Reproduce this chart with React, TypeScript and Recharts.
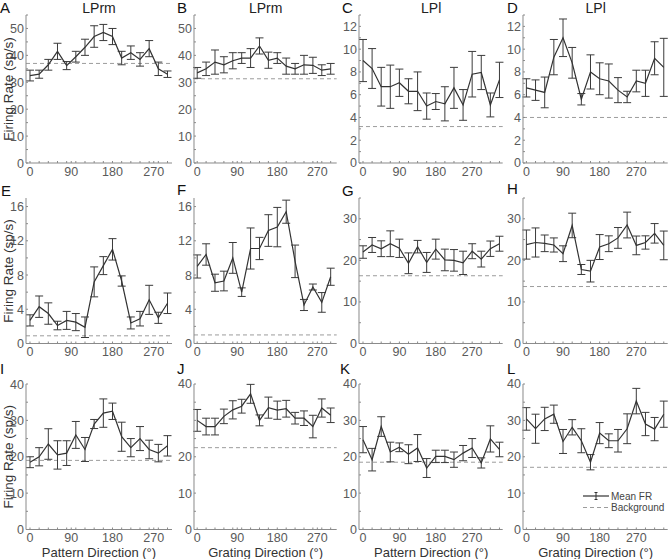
import React from 'react';
import { LineChart, Line, XAxis, YAxis, ErrorBar, ReferenceLine } from 'recharts';

// ---------- data ----------
const dirsLPrm = [0, 20, 40, 60, 80, 100, 120, 140, 160, 180, 200, 220, 240, 260, 280, 300];
const dirsLPl = [0, 22.5, 45, 67.5, 90, 112.5, 135, 157.5, 180, 202.5, 225, 247.5, 270, 292.5, 315, 337.5];

const meanA = [32.5, 33, 36.5, 41.5, 36.2, 39.5, 43, 47, 48.5, 47, 39, 41, 38.5, 42.5, 35, 33];
const errA = [2, 1.5, 2, 3, 1.5, 2, 3, 4, 3, 3, 2.5, 2.5, 2.5, 3, 2.5, 1.2];
const bgA = 37;

const meanB = [33.5, 35, 37.5, 36.5, 38, 39, 39, 43.5, 38.2, 39, 36, 35, 36.5, 36.3, 34.5, 35];
const errB = [2, 2.5, 4.5, 3, 3, 2, 3.5, 3, 3, 2, 3, 2, 3.5, 3, 2, 2];
const bgB = 31.3;

const meanC = [9.0, 8.3, 6.7, 6.7, 7.05, 6.3, 6.3, 5.0, 5.4, 5.2, 6.6, 5.1, 7.8, 7.95, 5.1, 7.3];
const errC = [1.85, 1.75, 1.7, 1.9, 1.2, 1.1, 1.7, 1.15, 0.7, 1.5, 1.8, 1.35, 2.0, 1.5, 1.05, 1.55];
const bgC = 3.2;

const meanD = [6.6, 6.4, 6.2, 9.3, 11.0, 8.8, 5.6, 8.0, 7.4, 7.2, 6.4, 5.8, 7.2, 7.0, 9.2, 8.4];
const errD = [0.8, 0.9, 1.35, 1.55, 1.65, 1.35, 0.5, 1.5, 1.4, 1.5, 1.1, 0.5, 0.95, 1.15, 1.45, 2.55];
const bgD = 4.0;

const meanE = [2.7, 4.3, 3.5, 2.1, 2.7, 2.5, 1.9, 7.2, 9.1, 11.0, 7.3, 2.4, 2.9, 5.1, 3.0, 4.7];
const errE = [0.65, 1.25, 1.25, 0.5, 1.05, 1.0, 1.2, 1.75, 1.05, 1.25, 0.6, 0.7, 0.85, 1.7, 0.65, 1.2];
const bgE = 0.9;

const meanF = [9.0, 10.4, 7.1, 7.3, 10.0, 6.0, 11.1, 11.1, 13.2, 13.6, 15.4, 9.6, 4.5, 6.6, 4.8, 7.8];
const errF = [1.35, 1.25, 1.0, 1.15, 1.8, 0.5, 2.4, 1.3, 1.85, 2.3, 1.35, 1.9, 0.65, 0.35, 1.15, 1.0];
const bgF = 1.0;

const meanG = [22, 23.7, 22.8, 24, 22.9, 19.3, 23.3, 19.5, 22.7, 20.1, 20, 19.4, 22.2, 20.3, 22.8, 24];
const errG = [1.5, 1.8, 1.9, 3.1, 2.2, 2.5, 1.5, 2.4, 2.4, 2.6, 2.6, 2.8, 1.8, 1.9, 1.85, 1.8];
const bgG = 16.3;

const meanH = [23.8, 24.3, 24.1, 23.7, 21.6, 28.4, 17.8, 17.4, 23.2, 24, 25.4, 28.5, 23.6, 24.3, 26.5, 23.6];
const errH = [3.5, 3.5, 2, 1.7, 1.9, 2.95, 1.2, 2.6, 3, 1.9, 2.5, 3.1, 2.25, 1.6, 2.35, 3.45];
const bgH = 13.7;

const meanI = [18.5, 20, 23.5, 20.5, 21, 26, 22, 29, 32, 32.5, 25.5, 22.5, 25, 22, 21, 23];
const errI = [1.5, 2.5, 4.2, 3.9, 3.4, 3.7, 3.3, 1.25, 3.9, 2.25, 4, 2.5, 3.3, 2.55, 2.4, 2.8];
const bgI = 19;

const meanJ = [30.0, 28.3, 28.3, 31.1, 32.9, 33.9, 37.3, 30.0, 33.5, 32.8, 33.2, 30.6, 30.6, 28.3, 33.4, 31.4];
const errJ = [3, 2.3, 2.3, 2, 2.5, 1.9, 2.6, 1.5, 2.9, 2.5, 2.3, 1.6, 2, 3.1, 2.5, 2];
const bgJ = 22.5;

const meanK = [24.7, 19.2, 28.3, 21.3, 22.6, 20.7, 22.4, 16.9, 20.1, 20.1, 19.2, 21, 22.4, 18.3, 24.9, 22];
const errK = [3.6, 3.1, 2.7, 2.7, 1.2, 2.6, 3.7, 2.6, 1.7, 1.7, 2.1, 2.1, 2.6, 1.4, 3.6, 2];
const bgK = 18.5;

const meanL = [30.4, 27.7, 30.4, 31.7, 24.2, 28.1, 24.4, 18.5, 26.5, 24.4, 24.4, 27.7, 35.3, 29, 27.6, 31.7];
const errL = [3.1, 4, 3.2, 2.5, 3.3, 2.1, 3.3, 2.1, 2.9, 1.9, 3.1, 4.1, 3.5, 3.2, 3.2, 3.6];
const bgL = 17.1;

// tick values / labels
const xTickLabels = [0, 90, 180, 270];
const xTicksLPrm = [0, 20, 40, 60, 80, 90, 100, 120, 140, 160, 180, 200, 220, 240, 260, 270, 280, 300];
const xTicksLPl = dirsLPl;

const yTicks55 = [0, 5, 10, 15, 20, 25, 30, 35, 40, 45, 50, 55];
const yLabels55 = [0, 10, 20, 30, 40, 50];
const yTicks13 = [0, 1, 2, 3, 4, 5, 6, 7, 8, 9, 10, 11, 12, 13];
const yLabels13 = [0, 2, 4, 6, 8, 10, 12];
const yTicks17 = [0, 2, 4, 6, 8, 10, 12, 14, 16];
const yLabels17 = [0, 4, 8, 12, 16];
const yTicks35 = [0, 5, 10, 15, 20, 25, 30, 35];
const yLabels35 = [0, 10, 20, 30];
const yTicks40 = [0, 5, 10, 15, 20, 25, 30, 35, 40];
const yLabels40 = [0, 10, 20, 30, 40];
const yLabelsJ = [0, 10, 20, 40];

const titles = ['LPrm', 'LPrm', 'LPl', 'LPl'];
const xAxisTitles = ['Pattern Direction (°)', 'Grating Direction (°)', 'Pattern Direction (°)', 'Grating Direction (°)'];
const yAxisTitle = 'Firing Rate (sp/s)';
const legendLabels = ['Mean FR', 'Background'];

// ---------- layout ----------
const FONT = '"Liberation Sans", Arial, Helvetica, sans-serif';
const YW = 30;
const XH = 25;
const MT = 9;
const cols = [
  { axisX: 26, right: 172, xDomain: [-8.7, 309.8] },
  { axisX: 194.3, right: 337, xDomain: [-7.2, 313.5] },
  { axisX: 359.3, right: 503, xDomain: [-9.9, 345.5] },
  { axisX: 523.3, right: 668, xDomain: [-8.3, 347.1] },
];
const rows = [
  { top: 15, bottom: 163 },
  { top: 198.3, bottom: 343.8 },
  { top: 384, bottom: 529.5 },
];

const build = (dirs: number[], mean: number[], err: number[]) =>
  dirs.map((d, i) => ({ dir: d, mean: mean[i], err: err[i] }));

const panels = [
  { letter: 'A', col: 0, row: 0, data: build(dirsLPrm, meanA, errA), bg: bgA, yDomain: [0, 55], yTicks: yTicks55, yLabels: yLabels55 },
  { letter: 'B', col: 1, row: 0, data: build(dirsLPrm, meanB, errB), bg: bgB, yDomain: [0, 55], yTicks: yTicks55, yLabels: yLabels55 },
  { letter: 'C', col: 2, row: 0, data: build(dirsLPl, meanC, errC), bg: bgC, yDomain: [0, 13], yTicks: yTicks13, yLabels: yLabels13 },
  { letter: 'D', col: 3, row: 0, data: build(dirsLPl, meanD, errD), bg: bgD, yDomain: [0, 13], yTicks: yTicks13, yLabels: yLabels13 },
  { letter: 'E', col: 0, row: 1, data: build(dirsLPrm, meanE, errE), bg: bgE, yDomain: [0, 17], yTicks: yTicks17, yLabels: yLabels17 },
  { letter: 'F', col: 1, row: 1, data: build(dirsLPrm, meanF, errF), bg: bgF, yDomain: [0, 17], yTicks: yTicks17, yLabels: yLabels17 },
  { letter: 'G', col: 2, row: 1, data: build(dirsLPl, meanG, errG), bg: bgG, yDomain: [0, 35], yTicks: yTicks35, yLabels: yLabels35 },
  { letter: 'H', col: 3, row: 1, data: build(dirsLPl, meanH, errH), bg: bgH, yDomain: [0, 35], yTicks: yTicks35, yLabels: yLabels35 },
  { letter: 'I', col: 0, row: 2, data: build(dirsLPrm, meanI, errI), bg: bgI, yDomain: [0, 40], yTicks: yTicks40, yLabels: yLabels40 },
  { letter: 'J', col: 1, row: 2, data: build(dirsLPrm, meanJ, errJ), bg: bgJ, yDomain: [0, 40], yTicks: yTicks40, yLabels: yLabelsJ },
  { letter: 'K', col: 2, row: 2, data: build(dirsLPl, meanK, errK), bg: bgK, yDomain: [0, 40], yTicks: yTicks40, yLabels: yLabels40 },
  { letter: 'L', col: 3, row: 2, data: build(dirsLPl, meanL, errL), bg: bgL, yDomain: [0, 40], yTicks: yTicks40, yLabels: yLabels40 },
];

const letterPos: Record<string, [number, number]> = {
  A: [0, 13], B: [177, 13], C: [342, 13], D: [507, 13],
  E: [1, 196], F: [177, 195], G: [342, 196], H: [507, 194],
  I: [0, 374], J: [177, 374], K: [340, 374], L: [507, 374],
};

const TICK_COLOR = '#5a5a5a';
const AXIS_COLOR = '#8a8a8a';
const TICK_FS = 12.5;

const makeXTick = (labels: number[]) => (props: any) => {
  const { x, y, payload } = props;
  if (!labels.includes(payload.value)) return <g />;
  return (
    <text x={x} y={y} dy="0.71em" textAnchor="middle" fill={TICK_COLOR} fontSize={TICK_FS} fontFamily={FONT}>
      {payload.value}
    </text>
  );
};

const makeYTick = (labels: number[]) => (props: any) => {
  const { x, y, payload } = props;
  if (!labels.includes(payload.value)) return <g />;
  return (
    <text x={x} y={y} dy="0.36em" textAnchor="end" fill={TICK_COLOR} fontSize={TICK_FS} fontFamily={FONT}>
      {payload.value}
    </text>
  );
};

function Panel({ p }: { p: any }) {
  const c = cols[p.col];
  const r = rows[p.row];
  const W = c.right - c.axisX + YW + 2;
  const H = r.bottom - r.top + MT + XH;
  const xTicks = p.col < 2 ? xTicksLPrm : xTicksLPl;
  return (
    <div style={{ position: 'absolute', left: c.axisX - YW, top: r.top - MT, width: W, height: H }}>
      <LineChart width={W} height={H} data={p.data} margin={{ top: MT, right: 2, bottom: 0, left: 0 }}>
        <XAxis
          type="number"
          dataKey="dir"
          domain={c.xDomain}
          ticks={xTicks}
          interval={0}
          allowDataOverflow
          height={XH}
          tickSize={-2}
          tickMargin={6}
          stroke={AXIS_COLOR}
          tick={makeXTick(xTickLabels)}
        />
        <YAxis
          type="number"
          domain={p.yDomain}
          ticks={p.yTicks}
          interval={0}
          allowDataOverflow
          width={YW}
          tickSize={-2}
          tickMargin={4}
          stroke={AXIS_COLOR}
          tick={makeYTick(p.yLabels)}
        />
        <ReferenceLine y={p.bg} stroke="#9c9c9c" strokeDasharray="4 3" strokeWidth={1} />
        <Line dataKey="mean" stroke="#333" strokeWidth={1.2} dot={false} isAnimationActive={false}>
          <ErrorBar dataKey="err" width={4} stroke="#3a3a3a" strokeWidth={1} direction="y" isAnimationActive={false} />
        </Line>
      </LineChart>
    </div>
  );
}

export default function App() {
  const rowCenters = rows.map((r) => (r.top + r.bottom) / 2);
  return (
    <div style={{ position: 'absolute', left: 0, top: 0, width: 669, height: 559, background: '#fff', overflow: 'hidden' }}>
      {panels.map((p) => (
        <Panel key={p.letter} p={p} />
      ))}
      <svg width={669} height={559} style={{ position: 'absolute', left: 0, top: 0, pointerEvents: 'none' }} fontFamily={FONT}>
        {panels.map((p) => (
          <text key={p.letter} x={letterPos[p.letter][0]} y={letterPos[p.letter][1]} fontSize={15} fill="#111">
            {p.letter}
          </text>
        ))}
        {cols.map((c, i) => (
          <text key={'t' + i} x={(c.axisX + c.right) / 2} y={13} fontSize={14} fill="#222" textAnchor="middle">
            {titles[i]}
          </text>
        ))}
        {cols.map((c, i) => (
          <text key={'xl' + i} x={(c.axisX + c.right) / 2} y={556.5} fontSize={13} fill="#333" textAnchor="middle">
            {xAxisTitles[i]}
          </text>
        ))}
        {rowCenters.map((cy, i) => (
          <text
            key={'yl' + i}
            x={8.5}
            y={cy}
            fontSize={13.5}
            fill="#333"
            textAnchor="middle"
            dominantBaseline="central"
            transform={`rotate(-90, 8.5, ${cy})`}
          >
            {yAxisTitle}
          </text>
        ))}
        {/* legend */}
        <g>
          <line x1={583} x2={609} y1={496} y2={496} stroke="#333" strokeWidth={1.2} />
          <line x1={596} x2={596} y1={492.5} y2={499.5} stroke="#333" strokeWidth={1} />
          <line x1={594.5} x2={597.5} y1={492.5} y2={492.5} stroke="#333" strokeWidth={1} />
          <line x1={594.5} x2={597.5} y1={499.5} y2={499.5} stroke="#333" strokeWidth={1} />
          <text x={611} y={496} fontSize={10} fill="#444" dominantBaseline="central">
            {legendLabels[0]}
          </text>
          <line x1={583} x2={609} y1={507.5} y2={507.5} stroke="#9c9c9c" strokeWidth={1} strokeDasharray="4 3" />
          <text x={611} y={507.5} fontSize={10} fill="#444" dominantBaseline="central">
            {legendLabels[1]}
          </text>
        </g>
      </svg>
    </div>
  );
}
